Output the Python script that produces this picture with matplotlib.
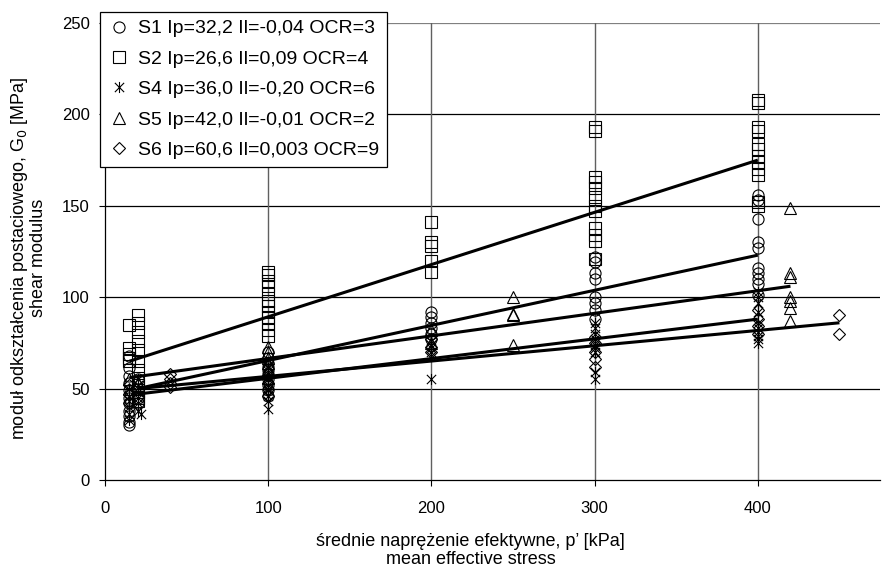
import matplotlib
matplotlib.use("Agg")
import matplotlib.pyplot as plt
from matplotlib.path import Path
import numpy as np

plt.rcParams['font.family'] = ['Liberation Sans', 'DejaVu Sans']

# ---------------- data ----------------
s1_x = [15]*11 + [20]*4 + [100]*10 + [200]*6 + [300]*8 + [400]*10
s1_y = [68, 61, 57, 53, 49, 45, 42, 38, 35, 32, 30,
        55, 50, 45, 42,
        70, 67, 64, 62, 60, 58, 55, 52, 49, 46,
        92, 89, 86, 83, 80, 77,
        122, 119, 113, 110, 100, 97, 93, 88,
        156, 153, 143, 130, 127, 116, 113, 110, 107, 101]

s2_x = [15]*5 + [20]*12 + [100]*12 + [200]*5 + [300]*12 + [400]*12
s2_y = [85, 72, 69, 67, 65,
        90, 86, 81, 76, 71, 65, 60, 56, 52, 48, 45, 43,
        114, 112, 109, 106, 102, 98, 95, 92, 89, 86, 82, 79,
        141, 130, 128, 120, 114,
        193, 191, 166, 163, 160, 155, 150, 147, 138, 134, 131, 121,
        208, 206, 193, 191, 184, 181, 177, 174, 170, 167, 152, 150]

s4_x = [15]*6 + [20]*6 + [22] + [100]*8 + [200]*6 + [300]*9 + [400]*10
s4_y = [33, 36, 40, 43, 46, 50,
        38, 42, 45, 48, 52, 55,
        36,
        39, 43, 46, 49, 52, 55, 58, 61,
        55, 68, 70, 72, 74, 76,
        55, 59, 70, 72, 74, 77, 80, 83, 86,
        75, 77, 79, 81, 83, 86, 92, 97, 100, 103]

s5_x = [15]*2 + [20]*2 + [100]*6 + [200]*2 + [250]*4 + [420]*7
s5_y = [50, 55,
        48, 53,
        56, 60, 64, 67, 70, 73,
        75, 82,
        100, 91, 90, 74,
        149, 113, 111, 100, 98, 94, 87]

s6_x = [15]*3 + [40]*4 + [100]*4 + [200]*3 + [300]*5 + [400]*4 + [450]*2
s6_y = [42, 47, 52,
        58, 55, 53, 51,
        46, 50, 53, 57,
        70, 73, 77,
        62, 66, 70, 75, 78,
        80, 84, 88, 93,
        90, 80]

# trend lines (start/end points)
fit_x = {'S1': [20, 400], 'S2': [15, 400], 'S4': [20, 400], 'S5': [15, 420], 'S6': [20, 450]}
fit_y = {'S1': [50, 123], 'S2': [65, 175], 'S4': [47, 88], 'S5': [56, 106], 'S6': [50, 86]}

labels = ['S1 Ip=32,2 Il=-0,04 OCR=3',
          'S2 Ip=26,6 Il=0,09 OCR=4',
          'S4 Ip=36,0 Il=-0,20 OCR=6',
          'S5 Ip=42,0 Il=-0,01 OCR=2',
          'S6 Ip=60,6 Il=0,003 OCR=9']

x_ticks = [0, 100, 200, 300, 400]
y_ticks = [0, 50, 100, 150, 200, 250]

# ---------------- plot ----------------
fig = plt.figure(figsize=(8.82, 5.71), dpi=100)
ax = fig.add_axes([105/882, 1-480/571, 1-105/882-0.002, (480-23)/571])

star = Path([(-1, -1), (1, 1), (-1, 1), (1, -1), (0, -1.2), (0, 1.2)],
            [Path.MOVETO, Path.LINETO, Path.MOVETO, Path.LINETO, Path.MOVETO, Path.LINETO])

series = [(s1_x, s1_y, 'o', 8),
          (s2_x, s2_y, 's', 8),
          (s4_x, s4_y, star, 8),
          (s5_x, s5_y, '^', 8.5),
          (s6_x, s6_y, 'D', 6.5)]

handles = []
for (xs, ys, m, ms), lab in zip(series, labels):
    h, = ax.plot(xs, ys, linestyle='none', marker=m, markersize=ms,
                 markerfacecolor='none', markeredgecolor='black',
                 markeredgewidth=0.8, label=lab, zorder=3)
    handles.append(h)

for k in ['S1', 'S2', 'S4', 'S5', 'S6']:
    ax.plot(fit_x[k], fit_y[k], color='black', linewidth=2.2, zorder=4,
            solid_capstyle='butt')

ax.set_xlim(0, 475)
ax.set_ylim(0, 250)
ax.set_xticks(x_ticks)
ax.set_yticks(y_ticks)
ax.tick_params(axis='both', direction='out', length=4, width=0.8,
               labelsize=12, colors='black')
ax.tick_params(axis='x', pad=11)
ax.tick_params(axis='y', pad=7)

for s in ['top', 'right']:
    ax.spines[s].set_visible(False)
for s in ['left', 'bottom']:
    ax.spines[s].set_linewidth(0.9)
    ax.spines[s].set_color('black')

ax.set_axisbelow(True)
for yv in y_ticks[1:]:
    ax.axhline(yv, color='black' if yv < 250 else '#808080', linewidth=0.9, zorder=1)
for xv in x_ticks[1:]:
    ax.axvline(xv, color='#606060', linewidth=1.0, zorder=1)

ax.set_xlabel('średnie naprężenie efektywne, p\u2019 [kPa]\nmean effective stress',
              fontsize=13, linespacing=1.1)
ax.xaxis.set_label_coords((471-105)/(881-105), -(533-480)/457)
ax.xaxis.label.set_verticalalignment('top')
ax.set_ylabel('moduł odkształcenia postaciowego, G$_0$ [MPa]\nshear modulus',
              fontsize=13, linespacing=1.0)
ax.yaxis.label.set_verticalalignment('center')
ax.yaxis.set_label_coords(-(105-28)/776, (480-258)/457)

leg = ax.legend(handles=handles, loc='upper left',
                bbox_to_anchor=(100/882, 1-12/571), bbox_transform=fig.transFigure,
                fontsize=14, frameon=True, fancybox=False, framealpha=1,
                edgecolor='black', borderaxespad=0, handlelength=1.2,
                handletextpad=0.35, labelspacing=0.66, borderpad=0.4)
leg.get_frame().set_linewidth(0.9)
leg.set_zorder(10)

fig.savefig('out.png', dpi=100)
